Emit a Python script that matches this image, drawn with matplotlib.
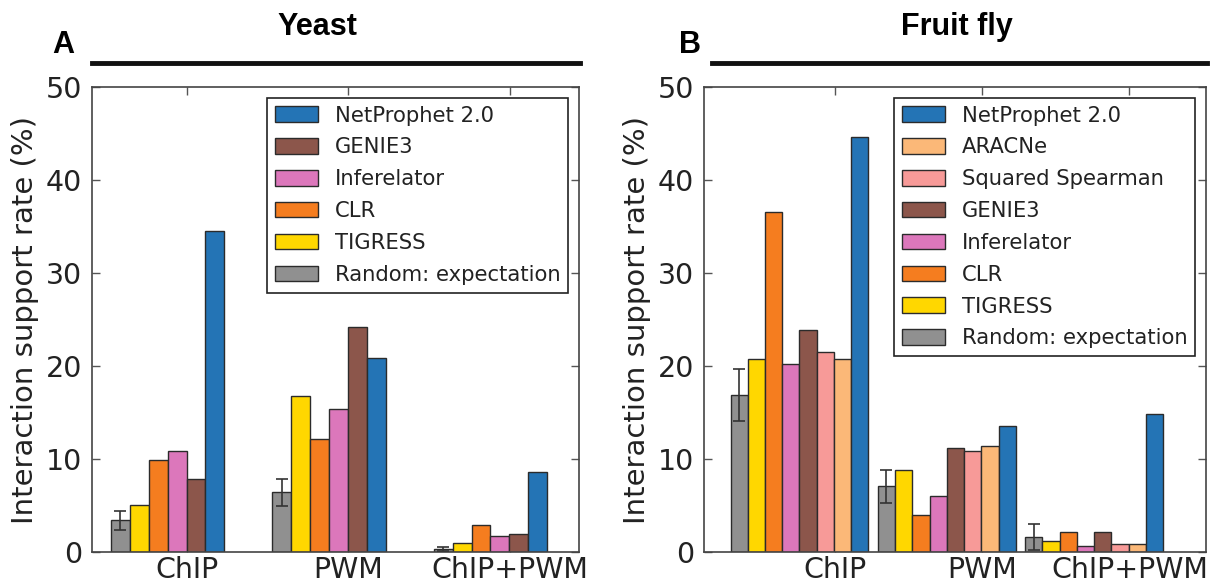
import numpy as np
import matplotlib
matplotlib.use('Agg')
import matplotlib.pyplot as plt
from matplotlib.lines import Line2D

# groups on the x axis
groups = ['ChIP', 'PWM', 'ChIP+PWM']

# yeast panel (plot order, left to right inside a group)
yeast_methods = ['Random: expectation', 'TIGRESS', 'CLR', 'Inferelator', 'GENIE3', 'NetProphet 2.0']
yeast_random = [3.4, 6.4, 0.35]
yeast_random_err = [1.05, 1.4, 0.2]
yeast_tigress = [5.1, 16.8, 0.97]
yeast_clr = [9.85, 12.2, 2.85]
yeast_inferelator = [10.9, 15.4, 1.7]
yeast_genie3 = [7.8, 24.2, 1.95]
yeast_netprophet = [34.5, 20.9, 8.6]

# fruit fly panel
fly_methods = ['Random: expectation', 'TIGRESS', 'CLR', 'Inferelator', 'GENIE3',
               'Squared Spearman', 'ARACNe', 'NetProphet 2.0']
fly_random = [16.9, 7.05, 1.6]
fly_random_err = [2.8, 1.8, 1.4]
fly_tigress = [20.7, 8.85, 1.2]
fly_clr = [36.6, 4.0, 2.15]
fly_inferelator = [20.2, 6.0, 0.6]
fly_genie3 = [23.9, 11.15, 2.15]
fly_spearman = [21.5, 10.9, 0.9]
fly_aracne = [20.8, 11.35, 0.9]
fly_netprophet = [44.6, 13.5, 14.8]

colors = {
    'Random: expectation': '#909090',
    'TIGRESS': '#ffd700',
    'CLR': '#f57d1f',
    'Inferelator': '#dc77bb',
    'GENIE3': '#8c564b',
    'Squared Spearman': '#f79a98',
    'ARACNe': '#fbb878',
    'NetProphet 2.0': '#2474b5',
}

plt.rcParams['font.family'] = 'DejaVu Sans'

fig = plt.figure(figsize=(12.19, 5.84), dpi=100)
W, H = 1219.0, 584.0


def panel(left, right, series, methods, err, tick_off, xlim):
    ax = fig.add_axes([left / W, 1 - 552 / H, (right - left) / W, (552 - 87) / H])
    ind = np.arange(len(groups))
    w = 0.117
    for i, (m, vals) in enumerate(zip(methods, series)):
        ax.bar(ind + i * w, vals, w, align='edge', color=colors[m],
               edgecolor='#2b2b2b', linewidth=1.0, label=m, zorder=2)
    ax.errorbar(ind + w / 2, series[0], yerr=err, fmt='none', ecolor='#333333',
                elinewidth=1.2, capsize=4, capthick=1.2, zorder=3)
    ax.set_xlim(*xlim)
    ax.set_ylim(0, 50)
    ax.set_yticks([0, 10, 20, 30, 40, 50])
    ax.set_xticks(ind + tick_off)
    ax.set_xticklabels(groups)
    ax.tick_params(direction='in', top=True, right=True, length=6, width=1,
                   color='#555555', labelsize=20.5, labelcolor='#222222', pad=3)
    ax.tick_params(axis='y', pad=7)
    for s in ax.spines.values():
        s.set_color('#444444')
        s.set_linewidth(1.2)
    ax.set_ylabel('Interaction support rate (%)', fontsize=21, color='#222222', labelpad=5)
    h, l = ax.get_legend_handles_labels()
    leg = ax.legend(h[::-1], l[::-1], loc='upper right', fontsize=15.2, fancybox=False,
                    framealpha=1, edgecolor='#222222', handlelength=2.05,
                    handleheight=0.76, labelspacing=0.56, borderaxespad=0.5,
                    handletextpad=0.8, borderpad=0.38)
    for t in leg.get_texts():
        t.set_color('#222222')
    leg.get_frame().set_linewidth(1.2)
    return ax


panel(92, 579,
      [yeast_random, yeast_tigress, yeast_clr, yeast_inferelator, yeast_genie3, yeast_netprophet],
      yeast_methods, yeast_random_err, 0.47, (-0.118, 2.90))
panel(704, 1206,
      [fly_random, fly_tigress, fly_clr, fly_inferelator, fly_genie3, fly_spearman, fly_aracne, fly_netprophet],
      fly_methods, fly_random_err, 0.707, (-0.18, 3.227))

# header bars, titles and panel letters
for x0, x1, title, tx, letter, lx in [(92, 580, 'Yeast', 317, 'A', 63),
                                     (712, 1207, 'Fruit fly', 957, 'B', 690)]:
    fig.add_artist(Line2D([x0 / W, x1 / W], [1 - 63 / H, 1 - 63 / H], color='#111111', linewidth=3.5))
    fig.text(tx / W, 1 - 27 / H, title, ha='center', va='center', fontsize=22,
             fontweight='bold', family='Liberation Sans')
    fig.text(lx / W, 1 - 45 / H, letter, ha='center', va='center', fontsize=22,
             fontweight='bold', family='Liberation Sans')

fig.savefig('out.png', dpi=100)
